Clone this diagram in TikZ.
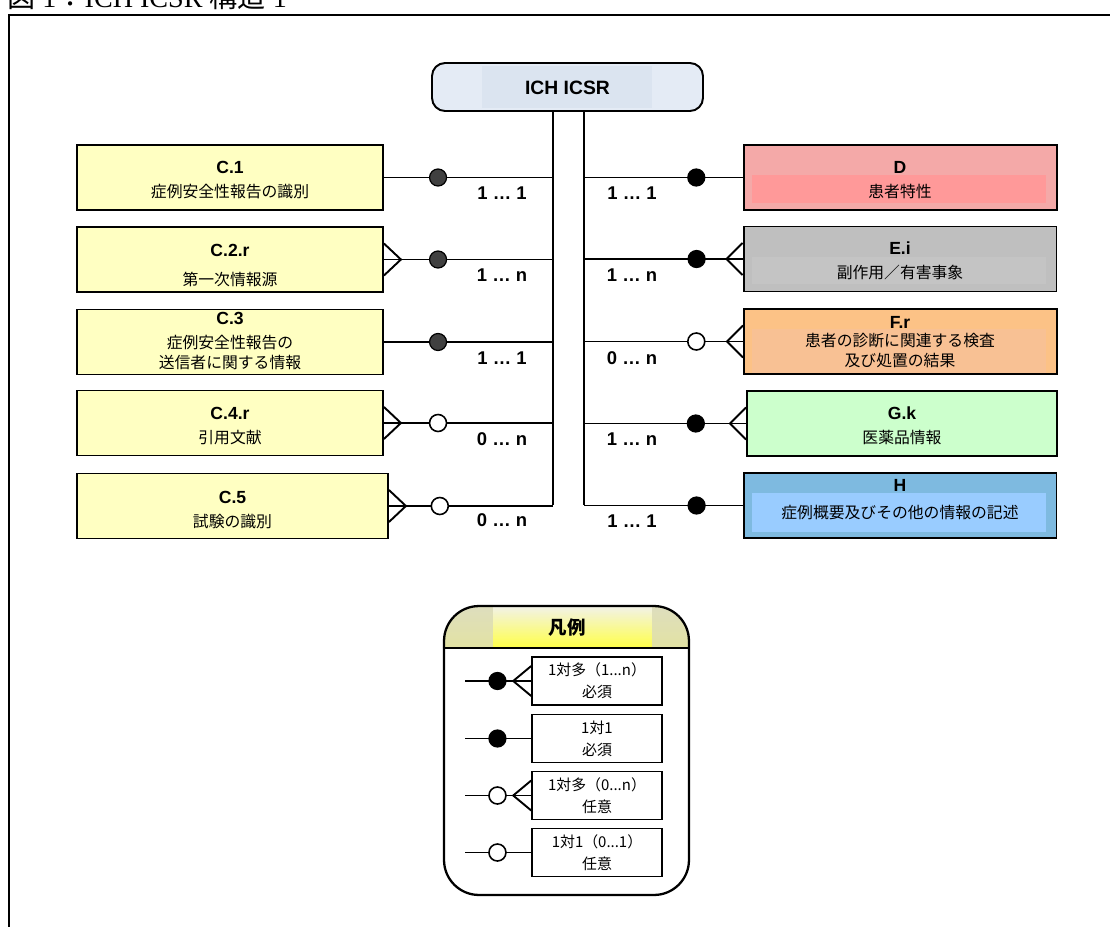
\documentclass[tikz,border=0pt]{standalone}
\usepackage{fontspec}
\setmainfont{Liberation Sans}
\newfontfamily\jp{Noto Sans CJK JP}
\newfontfamily\titlefont{Liberation Serif}
\usetikzlibrary{calc}

\definecolor{entyellow}{RGB}{255,255,194}
\definecolor{dout}{RGB}{244,169,168}
\definecolor{din}{RGB}{255,153,153}
\definecolor{eout}{RGB}{191,191,191}
\definecolor{ein}{RGB}{196,196,196}
\definecolor{fout}{RGB}{252,194,134}
\definecolor{fin}{RGB}{248,193,148}
\definecolor{gfill}{RGB}{204,255,204}
\definecolor{hout}{RGB}{126,186,224}
\definecolor{hin}{RGB}{153,204,255}
\definecolor{icsrout}{RGB}{228,235,245}
\definecolor{icsrin}{RGB}{219,228,240}
\definecolor{darkdot}{RGB}{64,64,64}
\definecolor{hdtop}{RGB}{222,222,190}
\definecolor{hdbot}{RGB}{250,250,0}
\definecolor{hdtopc}{RGB}{242,242,232}
\definecolor{hdbotc}{RGB}{255,255,70}

\tikzset{
  entity/.style={draw, line width=1.1pt, inner sep=0pt, minimum height=1.3cm},
  leftent/.style={entity, fill=entyellow, minimum width=6.12cm},
  rightent/.style={entity, minimum width=6.26cm},
  ttl/.style={inner sep=0pt, font=\bfseries\fontsize{10}{12}\selectfont},
  subtxt/.style={inner sep=0pt, align=center, font=\jp\fontsize{9}{11}\selectfont},
  card/.style={inner sep=0pt, font=\bfseries\fontsize{10.5}{12}\selectfont},
  conn/.style={line width=1.1pt},
  dotL/.style={circle, draw, fill=darkdot, minimum size=0.34cm, inner sep=0pt, line width=0.7pt},
  dotR/.style={circle, draw, fill=black, minimum size=0.34cm, inner sep=0pt, line width=0.7pt},
  opendot/.style={circle, draw, fill=white, minimum size=0.34cm, inner sep=0pt, line width=0.9pt},
  legbox/.style={draw, line width=0.9pt, minimum width=2.6cm, minimum height=0.96cm, inner sep=0pt,
    align=center, font=\jp\fontsize{8.5}{12.5}\selectfont},
}

\begin{document}
\begin{tikzpicture}[x=0.02cm, y=-0.02cm]
\useasboundingbox (0,0) rectangle (1110,927);
\clip (0,0) rectangle (1110,927);

% title (cut at the top) and frame
\node[anchor=base west, inner sep=0pt, font=\titlefont\fontsize{16}{18}\selectfont] (title) at (7,7)
  {{\jp 図} 1{\jp ：}ICH ICSR {\jp 構造} 1};
\draw[line width=1.4pt] (9,940) -- (9,15) -- (1120,15);

% root
\node[draw, line width=1.1pt, fill=icsrout, rounded corners=0.26cm, minimum width=5.42cm,
  minimum height=0.96cm, inner sep=0pt] (icsr) at (567.5,87) {};
\fill[icsrin] (482,66) rectangle (652,108);
\node[inner sep=0pt, font=\bfseries\fontsize{11}{13}\selectfont] (icsrt) at (567.5,88) {ICH ICSR};

% left entities
\node[leftent] (c1) at (230,177.5) {};
\node[leftent] (c2) at (230,259.5) {};
\node[leftent] (c3) at (230,342) {};
\node[leftent] (c4) at (230,423) {};
\node[leftent, minimum width=6.22cm] (c5) at (232.5,506) {};

\node[ttl] (c1t) at (230,167) {C.1};
\node[subtxt] (c1s) at (230,192) {症例安全性報告の識別};
\node[ttl] (c2t) at (230,250) {C.2.r};
\node[subtxt] (c2s) at (230,279) {第一次情報源};
\node[ttl] (c3t) at (230,318) {C.3};
\node[subtxt] (c3s) at (230,352.5) {症例安全性報告の\\送信者に関する情報};
\node[ttl] (c4t) at (230,413) {C.4.r};
\node[subtxt] (c4s) at (230,438) {引用文献};
\node[ttl] (c5t) at (232.5,497) {C.5};
\node[subtxt] (c5s) at (232.5,522) {試験の識別};

% right entities
\node[rightent, fill=dout] (d) at (900.5,177.5) {};
\node[rightent, fill=eout] (e) at (900,259) {};
\node[rightent, fill=fout] (f) at (900.5,341.5) {};
\node[rightent, fill=gfill, minimum width=6.2cm] (g) at (902,423.5) {};
\node[rightent, fill=hout] (h) at (900,505.5) {};

\fill[din] (752,175) rectangle (1046,203);
\fill[ein] (752,257) rectangle (1046,284);
\fill[fin] (752,329) rectangle (1046,373);
\fill[hin] (752,493) rectangle (1046,532);

\node[ttl] (dt) at (900,167) {D};
\node[subtxt] (ds) at (900,191) {患者特性};
\node[ttl] (et) at (900,248) {E.i};
\node[subtxt] (es) at (900,272) {副作用／有害事象};
\node[ttl] (ft) at (900,322) {F.r};
\node[subtxt] (fs) at (900,350.5) {患者の診断に関連する検査\\及び処置の結果};
\node[ttl] (gt) at (902,413) {G.k};
\node[subtxt] (gs) at (902,437) {医薬品情報};
\node[ttl] (ht) at (900,485) {H};
\node[subtxt] (hs) at (900,513) {症例概要及びその他の情報の記述};

% trunks
\coordinate (ltrunk) at (553,505);
\coordinate (rtrunk) at (584,505);
\draw[conn] (icsr.south -| ltrunk) -- (ltrunk);
\draw[conn] (icsr.south -| rtrunk) -- (rtrunk);

% left connectors
\draw[conn] (c1.east) -- node[pos=.32, dotL] {} (c1.east -| ltrunk);
\draw[conn] (c2.east) -- node[pos=.32, dotL] {} (c2.east -| ltrunk);
\draw[conn] (c3.east) -- node[pos=.32, dotL] {} (c3.east -| ltrunk);
\draw[conn] (c4.east) -- node[pos=.32, opendot] {} (c4.east -| ltrunk);
\draw[conn] (c5.east) -- node[pos=.31, opendot] {} (c5.east -| ltrunk);
\draw[conn] ($(c2.east)+(0,-16)$) -- ($(c2.east)+(17,0)$) -- ($(c2.east)+(0,16)$);
\draw[conn] ($(c4.east)+(0,-16)$) -- ($(c4.east)+(17,0)$) -- ($(c4.east)+(0,16)$);
\draw[conn] ($(c5.east)+(0,-16)$) -- ($(c5.east)+(17,0)$) -- ($(c5.east)+(0,16)$);

% right connectors
\draw[conn] (d.west -| rtrunk) -- node[pos=.706, dotR] {} (d.west);
\draw[conn] (e.west -| rtrunk) -- node[pos=.71, dotR] {} (e.west);
\draw[conn] (f.west -| rtrunk) -- node[pos=.706, opendot] {} (f.west);
\draw[conn] (g.west -| rtrunk) -- node[pos=.69, dotR] {} (g.west);
\draw[conn] (h.west -| rtrunk) -- node[pos=.71, dotR] {} (h.west);
\draw[conn] ($(e.west)+(0,-16)$) -- ($(e.west)+(-16,0)$) -- ($(e.west)+(0,16)$);
\draw[conn] ($(f.west)+(0,-16)$) -- ($(f.west)+(-16,0)$) -- ($(f.west)+(0,16)$);
\draw[conn] ($(g.west)+(0,-16)$) -- ($(g.west)+(-16,0)$) -- ($(g.west)+(0,16)$);

% cardinalities
\node[card] (k1) at (502,193) {1 … 1};
\node[card] (k2) at (502,275) {1 … n};
\node[card] (k3) at (502,358) {1 … 1};
\node[card] (k4) at (502,439) {0 … n};
\node[card] (k5) at (502,520) {0 … n};
\node[card] (m1) at (632,193) {1 … 1};
\node[card] (m2) at (632,275) {1 … n};
\node[card] (m3) at (632,358) {0 … n};
\node[card] (m4) at (632,439) {1 … n};
\node[card] (m5) at (632,521) {1 … 1};

% legend
\node[draw, line width=1.3pt, rounded corners=0.7cm, minimum width=4.9cm, minimum height=5.78cm, inner sep=0pt,
  path picture={
    \shade[sharp corners, top color=hdtop, bottom color=hdbot] (path picture bounding box.north west)
      rectangle ([yshift=-0.84cm]path picture bounding box.north east);
    \shade[sharp corners, top color=hdtopc, bottom color=hdbotc] ([xshift=0.98cm]path picture bounding box.north west)
      rectangle ([xshift=-0.74cm, yshift=-0.84cm]path picture bounding box.north east);
  }] (legend) at (566.5,750.5) {};
\coordinate (hdline) at (566.5,648);
\draw[line width=1pt] (legend.west |- hdline) -- (legend.east |- hdline);
\node[inner sep=0pt, font=\jp\bfseries\fontsize{10.5}{12}\selectfont] (legendt) at (567,628) {凡例};

\node[legbox] (lb1) at (597,681) {1対多（1...n）\\必須};
\node[legbox] (lb2) at (597,738.5) {1対1\\必須};
\node[legbox] (lb3) at (597,795.5) {1対多（0...n）\\任意};
\node[legbox] (lb4) at (597,852.5) {1対1（0...1）\\任意};

\coordinate (lstart) at (465,681);
\draw[conn] (lb1.west -| lstart) -- node[pos=.49, dotR] {} (lb1.west);
\draw[conn] (lb2.west -| lstart) -- node[pos=.49, dotR] {} (lb2.west);
\draw[conn] (lb3.west -| lstart) -- node[pos=.49, opendot] {} (lb3.west);
\draw[conn] (lb4.west -| lstart) -- node[pos=.49, opendot] {} (lb4.west);
\draw[conn] ($(lb1.west)+(0,-15)$) -- ($(lb1.west)+(-18,0)$) -- ($(lb1.west)+(0,15)$);
\draw[conn] ($(lb3.west)+(0,-15)$) -- ($(lb3.west)+(-18,0)$) -- ($(lb3.west)+(0,15)$);
\end{tikzpicture}
\end{document}
